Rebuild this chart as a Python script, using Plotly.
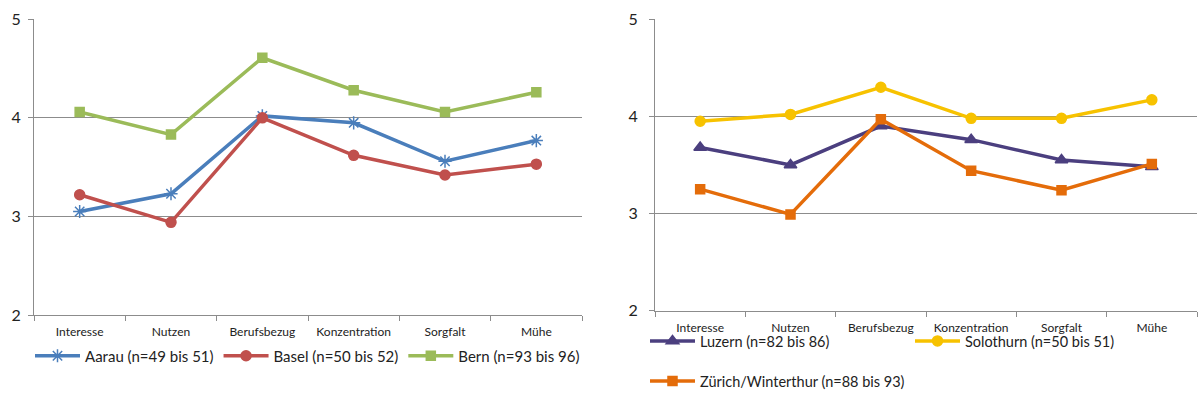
import plotly.graph_objects as go

categories = ["Interesse", "Nutzen", "Berufsbezug", "Konzentration", "Sorgfalt", "Mühe"]

# left panel
aarau = [3.05, 3.23, 4.02, 3.95, 3.56, 3.77]
basel = [3.22, 2.94, 4.00, 3.62, 3.42, 3.53]
bern = [4.06, 3.83, 4.61, 4.28, 4.06, 4.26]

# right panel
luzern = [3.68, 3.50, 3.90, 3.76, 3.55, 3.48]
solothurn = [3.95, 4.02, 4.30, 3.98, 3.98, 4.17]
zuerich = [3.25, 2.99, 3.97, 3.44, 3.24, 3.51]

names_left = ["Aarau (n=49 bis 51)", "Basel (n=50 bis 52)", "Bern (n=93 bis 96)"]
names_right = ["Luzern (n=82 bis 86)", "Solothurn (n=50 bis 51)", "Zürich/Winterthur (n=88 bis 93)"]

FONT = "Lato"
GRID = "#8c8c8c"
W, H = 1200, 414

fig = go.Figure()


def add_series(x_ref, y_ref, values, name, color, symbol, size, legend):
    fig.add_trace(go.Scatter(
        x=categories, y=values, name=name, mode="lines+markers",
        xaxis=x_ref, yaxis=y_ref, legend=legend,
        line=dict(color=color, width=3.5),
        marker=dict(symbol=symbol, size=size, color=color,
                    line=dict(color=color, width=1.5)),
    ))


add_series("x", "y", aarau, names_left[0], "#4a7ebb", "asterisk-open", 11, "legend")
add_series("x", "y", basel, names_left[1], "#c0504d", "circle", 10, "legend")
add_series("x", "y", bern, names_left[2], "#9bbb59", "square", 9, "legend")

add_series("x2", "y2", luzern, names_right[0], "#4b3f7f", "triangle-up", 11, "legend2")
add_series("x2", "y2", solothurn, names_right[1], "#f7c200", "circle", 10, "legend3")
add_series("x2", "y2", zuerich, names_right[2], "#e46c0a", "square", 9, "legend4")

xcommon = dict(
    type="category", range=[-0.5, 5.5], tickson="boundaries", tickangle=0,
    ticks="outside", ticklen=5, tickcolor=GRID, showline=True, linecolor=GRID,
    linewidth=1, showgrid=False, zeroline=False, ticklabelstandoff=6,
    tickfont=dict(family=FONT, size=12, color="#222222"),
)
ycommon = dict(
    range=[2, 5], dtick=1, tick0=2, ticks="outside", ticklen=5, tickcolor=GRID,
    showline=True, linecolor=GRID, linewidth=1, showgrid=True, gridcolor=GRID,
    gridwidth=1, zeroline=False,
    tickfont=dict(family=FONT, size=16, color="#222222"),
)

legend_common = dict(
    orientation="h", bgcolor="rgba(0,0,0,0)", itemwidth=45,
    xanchor="left", yanchor="middle", tracegroupgap=0,
)

fig.update_layout(
    width=W, height=H, margin=dict(l=0, r=0, t=0, b=0, autoexpand=False),
    paper_bgcolor="white", plot_bgcolor="white",
    font=dict(family=FONT, color="#222222"),
    xaxis=dict(domain=[34 / W, 582 / W], anchor="y", **xcommon),
    yaxis=dict(domain=[(H - 315) / H, (H - 19.3) / H], anchor="x",
               ticklabelstandoff=4, **ycommon),
    xaxis2=dict(domain=[655 / W, 1197 / W], anchor="y2", **xcommon),
    yaxis2=dict(domain=[(H - 310.5) / H, (H - 19.3) / H], anchor="x2",
                ticklabelstandoff=8, **ycommon),
    legend=dict(x=30 / W, y=(H - 356) / H, traceorder="normal",
                font=dict(family=FONT, size=15, color="#222222"), **legend_common),
    legend2=dict(x=645 / W, y=(H - 341) / H,
                 font=dict(family=FONT, size=14.5, color="#222222"), **legend_common),
    legend3=dict(x=910 / W, y=(H - 341) / H,
                 font=dict(family=FONT, size=14.5, color="#222222"), **legend_common),
    legend4=dict(x=645 / W, y=(H - 381) / H,
                 font=dict(family=FONT, size=14.5, color="#222222"), **legend_common),
)

fig.write_html("out.html")
